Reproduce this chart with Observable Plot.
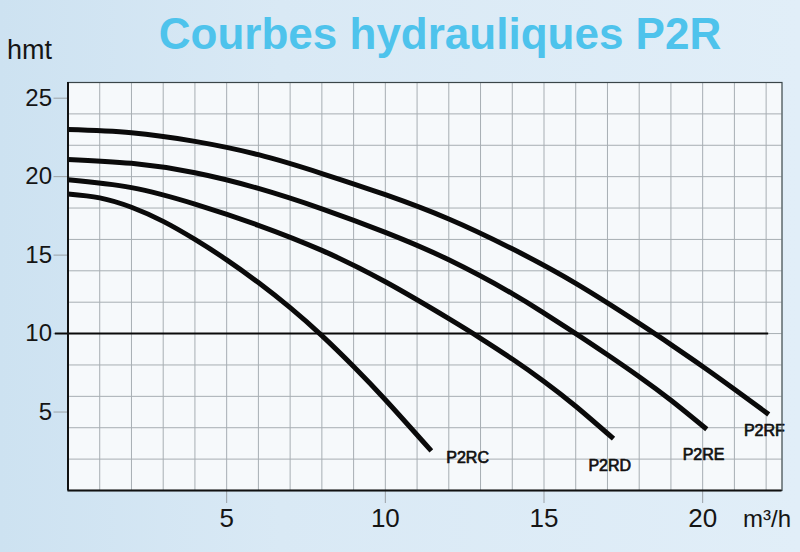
<!DOCTYPE html>
<html>
<head>
<meta charset="utf-8">
<script src="https://cdn.jsdelivr.net/npm/d3@7"></script>
<script src="https://cdn.jsdelivr.net/npm/@observablehq/plot@0.6"></script>
<style>
  html, body { margin: 0; padding: 0; }
  body {
    width: 800px; height: 552px; overflow: hidden;
    background: linear-gradient(90deg, #cde2f1 0%, #d9e9f5 35%, #e1eef8 100%);
    font-family: "Liberation Sans", Arial, Helvetica, sans-serif;
  }
  #wrap { position: relative; width: 800px; height: 552px; }
  #chart { position: absolute; left: 0; top: 0; }
  #title {
    position: absolute; left: 80px; width: 720px; top: 12px;
    text-align: center; font-size: 44px; line-height: 44px; font-weight: bold;
    color: #4ec3ec; white-space: nowrap;
  }
  #ylab { position: absolute; left: 7px; top: 37px; font-size: 27px; line-height: 27px; color: #151515; }
  #xlab { position: absolute; left: 743px; top: 507px; font-size: 24px; line-height: 24px; color: #151515; }
</style>
</head>
<body>
<div id="wrap">
  <div id="chart"></div>
  <div id="title">Courbes hydrauliques P2R</div>
  <div id="ylab">hmt</div>
  <div id="xlab">m³/h</div>
</div>
<script>
// Tick labels and grid positions
const xTicks = [5, 10, 15, 20];
const yTicks = [5, 10, 15, 20, 25];
const xGrid = [1,2,3,4,5,6,7,8,9,10,11,12,13,14,15,16,17,18,19,20,21,22];
const yGrid = [2,4,6,8,10,12,14,16,18,20,22,24];
const refHead = [10];

// Pump curves (débit m³/h, hauteur hmt)
const pumps = ["P2RC", "P2RD", "P2RE", "P2RF"];
const qP2RC = [0, 1, 2, 3, 4, 5, 6, 7, 8, 9, 10, 11.45];
const hP2RC = [18.9, 18.65, 18.05, 17.15, 16.0, 14.7, 13.25, 11.65, 9.87, 7.9, 5.78, 2.52];
const qP2RD = [0, 2, 4, 6, 8, 10, 12, 13, 14, 15, 16, 17.19];
const hP2RD = [19.8, 19.3, 18.25, 16.9, 15.3, 13.3, 10.95, 9.7, 8.38, 6.95, 5.37, 3.3];
const qP2RE = [0, 2, 4, 6, 8, 10, 12, 14, 15, 16, 17, 18, 19, 20.13];
const hP2RE = [21.1, 20.85, 20.25, 19.25, 17.95, 16.45, 14.7, 12.55, 11.3, 10.0, 8.65, 7.25, 5.75, 3.9];
const qP2RF = [0, 2, 4, 6, 8, 10, 12, 14, 16, 18, 19, 20, 21, 22.08];
const hP2RF = [23.0, 22.8, 22.25, 21.4, 20.2, 18.85, 17.3, 15.4, 13.2, 10.65, 9.3, 7.9, 6.45, 4.85];

// Label anchor positions (data units)
const labelQ = [11.92, 16.4, 19.37, 21.3];
const labelH = [2.1, 1.55, 2.3, 3.8];

const series = {P2RC: [qP2RC, hP2RC], P2RD: [qP2RD, hP2RD], P2RE: [qP2RE, hP2RE], P2RF: [qP2RF, hP2RF]};
const curves = pumps.flatMap(p => series[p][0].map((q, i) => ({pump: p, q, h: series[p][1][i]})));
const labels = pumps.map((p, i) => ({pump: p, q: labelQ[i], h: labelH[i]}));

const font = "'Liberation Sans', Arial, Helvetica, sans-serif";

const chart = Plot.plot({
  width: 800,
  height: 552,
  marginLeft: 67.5,
  marginRight: 18.5,
  marginTop: 82,
  marginBottom: 62,
  x: {domain: [0, 22.5]},
  y: {domain: [0, 26]},
  style: {background: "transparent", fontFamily: font, overflow: "visible"},
  marks: [
    Plot.frame({fill: "#f6f9fb", stroke: null}),
    Plot.ruleX(xGrid, {stroke: "#a7aeb3", strokeWidth: 1}),
    Plot.ruleY(yGrid, {stroke: "#a7aeb3", strokeWidth: 1}),
    Plot.axisX(xTicks, {tickSize: 13, tickPadding: 5, fontSize: 26, stroke: "#9aa1a6", color: "#151515", label: null}),
    Plot.axisY(yTicks, {tickSize: 14, tickPadding: 2, fontSize: 24, stroke: "#9aa1a6", color: "#151515", label: null}),
    Plot.ruleY(refHead, {x1: -0.4, x2: 22.08, stroke: "#0a0a0a", strokeWidth: 2}),
    Plot.line(curves, {x: "q", y: "h", z: "pump", stroke: "#0a0a0a", strokeWidth: 5, curve: "natural", strokeLinecap: "butt"}),
    Plot.text(labels, {x: "q", y: "h", text: "pump", textAnchor: "start", fontSize: 16, fill: "#111", stroke: "#111", strokeWidth: 0.7, fontFamily: font}),
    Plot.frame({stroke: "#3a4548", strokeWidth: 1.2}),
    Plot.ruleX([0], {stroke: "#111", strokeWidth: 2}),
    Plot.ruleY([0], {stroke: "#111", strokeWidth: 2})
  ]
});
document.getElementById("chart").appendChild(chart);
</script>
</body>
</html>
